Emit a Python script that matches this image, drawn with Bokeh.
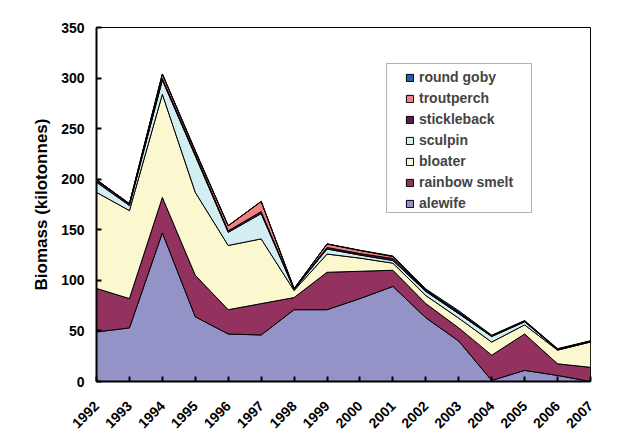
import math
import numpy as np
from bokeh.plotting import figure
from bokeh.models import Range1d, FixedTicker, Legend, LegendItem, BoxAnnotation
from bokeh.embed import file_html
from bokeh.resources import INLINE

years = [1992, 1993, 1994, 1995, 1996, 1997, 1998, 1999, 2000, 2001, 2002, 2003, 2004, 2005, 2006, 2007]
alewife = [49, 53, 147, 64, 47, 46, 71, 71, 82, 94, 63, 40, 1, 11, 6, 0]
rainbow_smelt = [43, 29, 35, 41, 24, 31, 12, 37, 27, 16, 14, 13, 25, 36, 11.5, 14]
bloater = [95, 87, 102, 82, 63.5, 64, 7, 18, 13, 7, 8, 9.6, 13, 9, 13.5, 25]
sculpin = [10, 5, 14, 36, 13, 25, 1, 5, 3, 2.6, 4, 4.4, 5.5, 3, 0.5, 0.5]
stickleback = [2, 1.5, 1.5, 2, 1.5, 2, 0.5, 1.5, 1.5, 2, 1, 1, 0.5, 0.5, 0.3, 0.3]
troutperch = [0.5, 0.3, 4.5, 3, 5, 10, 0.3, 3.5, 3, 2, 0.5, 0.5, 0.3, 0.3, 0.2, 0.2]
round_goby = [0, 0, 0, 0, 0, 0, 0, 0, 0.3, 0.5, 1, 1.5, 0.5, 0.5, 0.5, 0.3]

series_names = ["alewife", "rainbow smelt", "bloater", "sculpin", "stickleback", "troutperch", "round goby"]
series_values = [alewife, rainbow_smelt, bloater, sculpin, stickleback, troutperch, round_goby]
series_colors = ["#9393C8", "#94325F", "#FBF8D0", "#D2EEF2", "#5A1A5A", "#F28080", "#2060B0"]

y_ticks = [0, 50, 100, 150, 200, 250, 300, 350]

FONT = "Liberation Sans"

p = figure(width=611, height=438, output_backend="svg", toolbar_location=None,
           x_range=Range1d(years[0], years[-1]), y_range=Range1d(0, 350),
           min_border_left=96, min_border_right=21, min_border_top=27, min_border_bottom=57)

p.xgrid.visible = False
p.ygrid.visible = False
p.outline_line_color = "black"
p.outline_line_width = 1
p.background_fill_color = "white"
p.border_fill_color = "white"

xs = np.array(years, dtype=float)
bottom = np.zeros(len(years))
renderers = {}
for name, vals, col in zip(series_names, series_values, series_colors):
    top = bottom + np.array(vals, dtype=float)
    px = list(xs) + list(xs[::-1])
    py = list(top) + list(bottom[::-1])
    r = p.patch(px, py, fill_color=col, line_color="black", line_width=1)
    renderers[name] = r
    bottom = top

# axes
p.yaxis.ticker = FixedTicker(ticks=y_ticks)
p.xaxis.ticker = FixedTicker(ticks=years)
for ax in (p.xaxis, p.yaxis):
    ax.axis_line_width = 2
    ax.axis_line_color = "black"
    ax.major_tick_in = 5
    ax.major_tick_out = 0
    ax.major_tick_line_width = 2
    ax.minor_tick_line_color = None
    ax.major_label_text_font = FONT
    ax.major_label_text_font_style = "bold"
    ax.major_label_text_font_size = "14px"
    ax.major_label_text_color = "black"
p.yaxis.major_label_standoff = 12
p.xaxis.major_label_standoff = 22
p.xaxis.major_label_orientation = math.pi / 4
p.yaxis.axis_label = "Biomass (kilotonnes)"
p.yaxis.axis_label_text_font = FONT
p.yaxis.axis_label_text_font_style = "bold"
p.yaxis.axis_label_text_font_size = "17px"
p.yaxis.axis_label_text_color = "black"
p.yaxis.axis_label_standoff = 7

# legend box (frame-relative screen units, y from frame bottom)
p.add_layout(BoxAnnotation(left=290, right=435, top=318, bottom=169,
                           left_units="screen", right_units="screen",
                           top_units="screen", bottom_units="screen",
                           fill_color="white", fill_alpha=1,
                           line_color="black", line_width=1, level="annotation"))

items = [LegendItem(label=n, renderers=[renderers[n]]) for n in reversed(series_names)]
legend = Legend(items=items, location=(309, 168), orientation="vertical",
                border_line_color=None, background_fill_alpha=0,
                padding=4, spacing=1, margin=0,
                label_text_font=FONT, label_text_font_style="bold",
                label_text_font_size="14px", label_height=20,
                glyph_width=9, glyph_height=9, label_standoff=5)
p.add_layout(legend, "center")

open("out.html", "w").write(file_html(p, INLINE))
